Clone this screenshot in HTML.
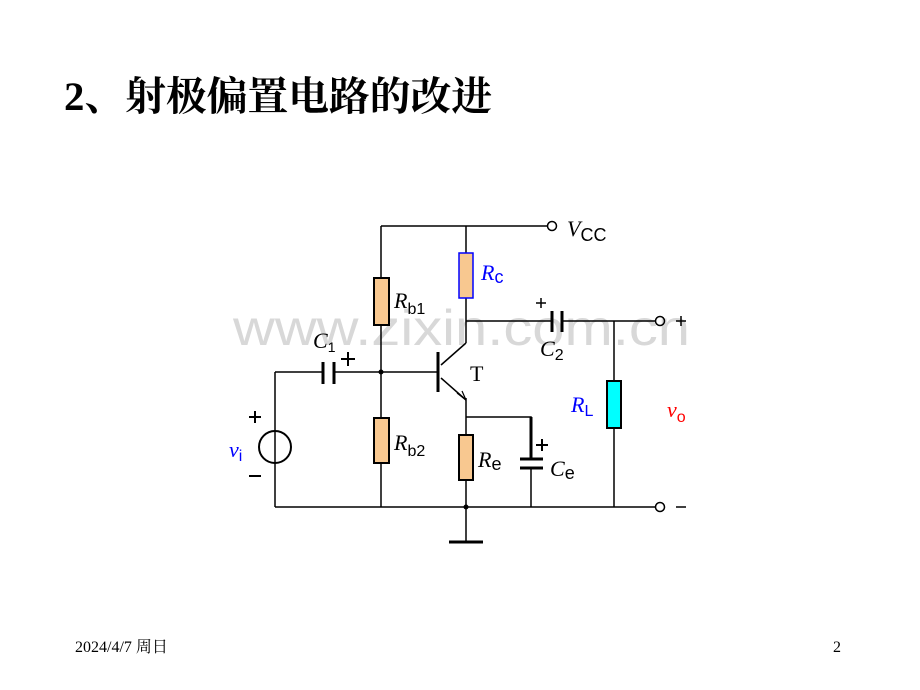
<!DOCTYPE html>
<html><head><meta charset="utf-8"><style>
html,body{margin:0;padding:0;background:#fff;}
svg{display:block;}
</style></head><body>
<svg width="920" height="690" viewBox="0 0 920 690" xmlns="http://www.w3.org/2000/svg">
<text x="64" y="110" font-family="'Liberation Serif','Noto Serif CJK SC','Noto Sans CJK SC',serif" font-weight="bold" font-size="40" textLength="428" lengthAdjust="spacingAndGlyphs">2、射极偏置电路的改进</text>
<text x="233" y="345" font-family="'Liberation Sans',sans-serif" font-size="50" fill="#d8d8d8" textLength="457" lengthAdjust="spacingAndGlyphs">www.zixin.com.cn</text>
<g stroke="#000" stroke-width="1.5" fill="none">
<polyline points="381,226 548,226"/>
<line x1="381" y1="226" x2="381" y2="507"/>
<line x1="466" y1="226" x2="466" y2="343"/>
<line x1="466" y1="321" x2="552" y2="321"/>
<line x1="562" y1="321" x2="656" y2="321"/>
<line x1="275" y1="372" x2="323" y2="372"/>
<line x1="334" y1="372" x2="438" y2="372"/>
<line x1="441" y1="365" x2="466" y2="343"/>
<line x1="441" y1="378" x2="466" y2="400"/>
<line x1="466" y1="398" x2="466" y2="542"/>
<polyline points="466,417 531,417 531,459"/>
<line x1="531" y1="468" x2="531" y2="507"/>
<line x1="275" y1="372" x2="275" y2="507"/>
<line x1="275" y1="507" x2="656" y2="507"/>
<line x1="614" y1="321" x2="614" y2="507"/>
<circle cx="552" cy="226" r="4.5"/>
<circle cx="660" cy="321" r="4.5"/>
<circle cx="660" cy="507" r="4.5"/>
<circle cx="275" cy="447" r="16" stroke-width="2"/>
<line x1="676" y1="321" x2="686" y2="321"/>
<line x1="681" y1="316" x2="681" y2="326"/>
<line x1="676" y1="507" x2="686" y2="507"/>
<line x1="536" y1="303" x2="546" y2="303"/>
<line x1="541" y1="298" x2="541" y2="308"/>
</g>
<g stroke="#000" stroke-width="3">
<line x1="323" y1="362" x2="323" y2="384"/>
<line x1="334" y1="362" x2="334" y2="384"/>
<line x1="552" y1="311" x2="552" y2="332"/>
<line x1="562" y1="311" x2="562" y2="332"/>
<line x1="438" y1="352" x2="438" y2="392"/>
<line x1="449" y1="542" x2="483" y2="542"/>
<line x1="520" y1="459" x2="543" y2="459"/>
<line x1="520" y1="468" x2="543" y2="468"/>
<line x1="531" y1="417" x2="531" y2="459"/>
<line x1="341" y1="359" x2="355" y2="359" stroke-width="2"/>
<line x1="348" y1="352" x2="348" y2="366" stroke-width="2"/>
<line x1="536" y1="445" x2="548" y2="445" stroke-width="2"/>
<line x1="542" y1="439" x2="542" y2="451" stroke-width="2"/>
<line x1="249" y1="417" x2="261" y2="417" stroke-width="2"/>
<line x1="255" y1="411" x2="255" y2="423" stroke-width="2"/>
<line x1="249" y1="476" x2="261" y2="476" stroke-width="2"/>
</g>
<path d="M457,393 L466,400 L462,391" stroke="#000" fill="none" stroke-width="1.2"/>
<circle cx="381" cy="372" r="2.5"/>
<circle cx="466" cy="507" r="2.5"/>
<rect x="374" y="278" width="15" height="47" fill="#f8c890" stroke="#000" stroke-width="2"/>
<rect x="374" y="418" width="15" height="45" fill="#f8c890" stroke="#000" stroke-width="2"/>
<rect x="459" y="435" width="14" height="45" fill="#f8c890" stroke="#000" stroke-width="2"/>
<rect x="459" y="253" width="14" height="45" fill="#f8c890" stroke="#00f" stroke-width="1.5"/>
<rect x="607" y="381" width="14" height="47" fill="#00ffff" stroke="#000" stroke-width="2"/>
<g font-family="'Liberation Serif',serif" font-size="22">
<text x="567" y="236" font-style="italic">V<tspan font-style="normal" font-family="'Liberation Sans',sans-serif" font-size="18" dy="5">CC</tspan></text>
<text x="481" y="280" fill="#00f" font-style="italic">R<tspan font-style="normal" font-family="'Liberation Sans',sans-serif" font-size="18" dy="3">c</tspan></text>
<text x="394" y="308" font-style="italic">R<tspan font-style="normal" font-family="'Liberation Sans',sans-serif" font-size="16" dy="6">b1</tspan></text>
<text x="394" y="450" font-style="italic">R<tspan font-style="normal" font-family="'Liberation Sans',sans-serif" font-size="16" dy="6">b2</tspan></text>
<text x="478" y="467" font-style="italic">R<tspan font-style="normal" font-family="'Liberation Sans',sans-serif" font-size="18" dy="3">e</tspan></text>
<text x="550" y="476" font-style="italic">C<tspan font-style="normal" font-family="'Liberation Sans',sans-serif" font-size="18" dy="3">e</tspan></text>
<text x="313" y="348" font-style="italic">C<tspan font-style="normal" font-family="'Liberation Sans',sans-serif" font-size="14" dy="4">1</tspan></text>
<text x="540" y="356" font-style="italic">C<tspan font-style="normal" font-family="'Liberation Sans',sans-serif" font-size="16" dy="4">2</tspan></text>
<text x="470" y="381" font-size="22">T</text>
<text x="571" y="412" fill="#00f" font-style="italic">R<tspan font-style="normal" font-family="'Liberation Sans',sans-serif" font-size="16" dy="4">L</tspan></text>
<text x="229" y="457" fill="#00f" font-style="italic">v<tspan font-style="normal" font-family="'Liberation Sans',sans-serif" font-size="16" dy="4">i</tspan></text>
<text x="667" y="417" fill="#f00" font-style="italic">v<tspan font-style="normal" font-family="'Liberation Sans',sans-serif" font-size="16" dy="5">o</tspan></text>
</g>
<text x="75" y="652" font-family="'Liberation Serif','Noto Serif CJK SC',serif" font-size="16">2024/4/7 周日</text>
<text x="833" y="652" font-family="'Liberation Serif',serif" font-size="16">2</text>
</svg>
</body></html>
